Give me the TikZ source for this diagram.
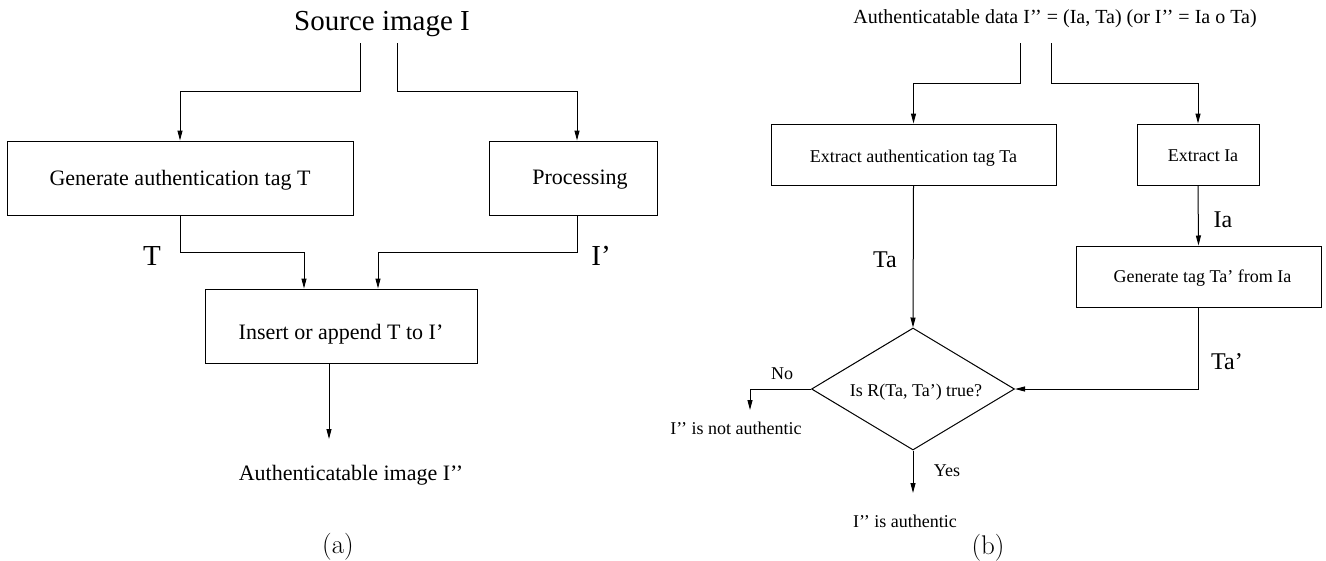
\documentclass[tikz,border=0pt]{standalone}
\usepackage{fontspec}
\newfontfamily\tms[Ligatures=TeX]{Liberation Serif}
\usetikzlibrary{arrows.meta,shapes.geometric}
\newcommand{\dq}{{'}{'}}
\begin{document}
\begin{tikzpicture}[x=1pt,y=-1pt,line width=1pt,
  arr/.style={-{Triangle[length=10pt,width=5pt]}},
  boxa/.style={draw,inner sep=0pt,text depth=0pt,font=\tms\fontsize{22}{26}\selectfont},
  boxb/.style={draw,inner sep=0pt,text depth=0pt,font=\tms\fontsize{18}{22}\selectfont},
  big/.style={inner sep=0pt,anchor=base,font=\tms\fontsize{29}{32}\selectfont},
  mid/.style={inner sep=0pt,anchor=base,font=\tms\fontsize{24}{28}\selectfont},
  txa/.style={inner sep=0pt,anchor=base,font=\tms\fontsize{22}{26}\selectfont},
  txb/.style={inner sep=0pt,anchor=base,font=\tms\fontsize{18}{22}\selectfont},
  captxt/.style={inner sep=0pt,anchor=base,font=\fontsize{27}{30}\selectfont}]
\useasboundingbox (0,0) rectangle (1326,560);
% ---------- (a) ----------
\node[big] (src) at (382,30) {Source image I};
\coordinate (s1) at (360,43);
\coordinate (s2) at (397,43);
\coordinate (j1) at (360,91);
\coordinate (j2) at (397,91);
\node[boxa,minimum width=346pt,minimum height=74pt,text height=14pt] (gen) at (180,178) {Generate authentication tag T};
\node[boxa,minimum width=168pt,minimum height=74pt,text height=12pt] (proc) at (573,178) {\hspace*{14pt}Processing};
\node[boxa,minimum width=272pt,minimum height=74pt,text height=26pt] (ins) at (341,326) {Insert or append T to I'};
\coordinate (jT) at (304,252);
\coordinate (jI) at (378,252);
\coordinate (outa) at (329,439);
\draw[arr] (s1) -- (j1) -| (gen.north);
\draw[arr] (s2) -- (j2) -| ([xshift=4pt]proc.north);
\draw[arr] (gen.south) |- (jT) -- ([xshift=-37pt]ins.north);
\draw[arr] ([xshift=4pt]proc.south) |- (jI) -- ([xshift=37pt]ins.north);
\draw[arr] ([xshift=-12pt]ins.south) -- (outa);
\node[big] (lT) at (152,265) {T};
\node[big] (lI) at (601,265) {I'};
\node[txa] (auimg) at (351,480) {Authenticatable image I\dq};
\node[captxt] (capa) at (338,553) {(a)};
% ---------- (b) ----------
\node[inner sep=0pt,anchor=base,font=\tms\fontsize{20}{24}\selectfont] (tit) at (1055,23) {Authenticatable data I\dq{} = (Ia, Ta) (or I\dq{} = Ia o Ta)};
\coordinate (t1) at (1020,43);
\coordinate (t2) at (1051,43);
\coordinate (k1) at (1020,83);
\coordinate (k2) at (1051,83);
\node[boxb,minimum width=285pt,minimum height=61pt,text height=15pt] (ext) at (913.5,154.5) {Extract authentication tag Ta};
\node[boxb,minimum width=122pt,minimum height=61pt,text height=13pt] (exi) at (1198,154.5) {\hspace*{10pt}Extract Ia};
\node[boxb,minimum width=245pt,minimum height=61pt,text height=11pt] (gtag) at (1198.5,276.5) {\hspace*{8pt}Generate tag Ta' from Ia};
\node[diamond,draw,inner sep=0pt,aspect=1.66,minimum width=203pt,minimum height=122pt,text depth=0pt,text height=14pt,font=\tms\fontsize{18}{22}\selectfont] (dia) at (913,389) {\hspace*{6pt}Is R(Ta, Ta') true?};
\coordinate (nob) at (750,410);
\coordinate (yesb) at (913,493);
\draw[arr] (t1) -- (k1) -| (ext.north);
\draw[arr] (t2) -- (k2) -| (exi.north);
\draw[arr] (ext.south) -- (dia.north);
\draw[arr] (exi.south) -- (gtag.north);
\draw[arr] (gtag.south) |- (dia.east);
\draw[arr] (dia.west) -| (nob);
\draw[arr] (dia.south) -- (yesb);
\node[mid] (lTa) at (885,267) {Ta};
\node[mid] (lIa) at (1223,227) {Ia};
\node[mid] (lTap) at (1227,369) {Ta'};
\node[txb] (no) at (782,379) {No};
\node[txb] (yes) at (947,476) {Yes};
\node[txb] (notau) at (736,434) {I\dq{} is not authentic};
\node[txb] (isau) at (905,527) {I\dq{} is authentic};
\node[captxt] (capb) at (988,554) {(b)};
\end{tikzpicture}
\end{document}
